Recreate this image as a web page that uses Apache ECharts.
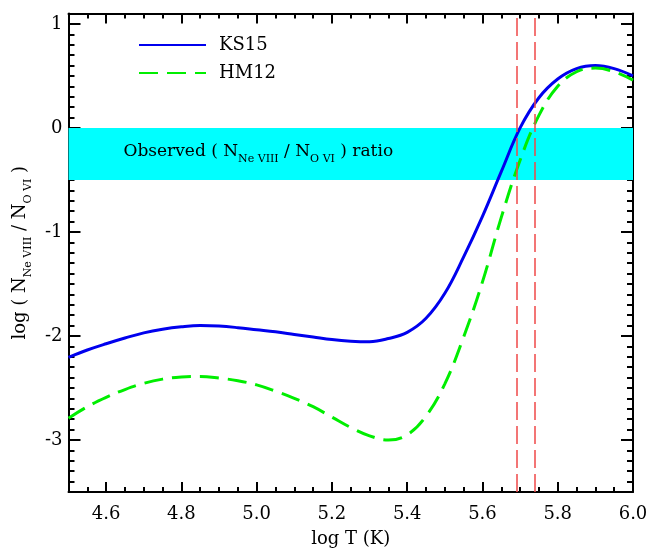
<!DOCTYPE html>
<html>
<head>
<meta charset="utf-8">
<script src="https://cdn.jsdelivr.net/npm/echarts@6/dist/echarts.min.js"></script>
<style>html,body{margin:0;padding:0;background:#fff;}#c{width:663px;height:553px;}</style>
</head>
<body>
<div id="c"></div>
<script>
const logT = [4.50,4.55,4.60,4.65,4.70,4.75,4.80,4.85,4.90,4.95,5.00,5.05,5.10,5.15,5.20,5.25,5.30,5.35,5.40,5.45,5.50,5.55,5.60,5.65,5.70,5.75,5.80,5.85,5.90,5.95,6.00];
const ks15 = [-2.205,-2.135,-2.075,-2.02,-1.97,-1.935,-1.912,-1.90,-1.905,-1.92,-1.94,-1.96,-1.985,-2.01,-2.035,-2.05,-2.055,-2.025,-1.965,-1.83,-1.59,-1.24,-0.85,-0.42,0.00,0.29,0.47,0.57,0.60,0.57,0.50];
const hm12 = [-2.79,-2.68,-2.59,-2.515,-2.455,-2.415,-2.395,-2.39,-2.405,-2.43,-2.47,-2.53,-2.60,-2.68,-2.78,-2.88,-2.96,-3.00,-2.95,-2.77,-2.46,-2.01,-1.48,-0.86,-0.31,0.12,0.40,0.54,0.575,0.54,0.46];
const xMajorTicks = [4.6,4.8,5.0,5.2,5.4,5.6,5.8,6.0];
const yMajorTicks = [-3,-2,-1,0,1];
const observedBand = [0, -0.5];
const tempLines = [5.69, 5.74];

const FONT = 'DejaVu Serif';
const chart = echarts.init(document.getElementById('c'), null, {renderer:'canvas'});

function xAxisDef(position, major){
  return {
    type:'value', min:4.5, max:6.0, position:position,
    interval: major ? undefined : 0.05,
    axisLine:{show: major, onZero:false, lineStyle:{color:'#000', width:2}},
    axisTick:{show:true, inside:true, length: major?10:5, lineStyle:{color:'#000', width:2},
      customValues: major ? xMajorTicks : undefined},
    axisLabel:{show: major && position==='bottom', customValues: xMajorTicks,
      formatter: v => v.toFixed(1), color:'#000', fontFamily:FONT, fontSize:18, margin:13},
    splitLine:{show:false},
    name: (major && position==='bottom') ? 'log T (K)' : '',
    nameLocation:'middle', nameGap:38,
    nameTextStyle:{color:'#000', fontFamily:FONT, fontSize:18}
  };
}
function yAxisDef(position, major){
  return {
    type:'value', min:-3.5, max:1.1, position:position,
    interval: major ? undefined : 0.1,
    axisLine:{show: major, onZero:false, lineStyle:{color:'#000', width:2}},
    axisTick:{show:true, inside:true, length: major?12:6, lineStyle:{color:'#000', width:2},
      customValues: major ? yMajorTicks : undefined},
    axisLabel:{show: major && position==='left', customValues: yMajorTicks,
      formatter: v => String(Math.round(v)), color:'#000', fontFamily:FONT, fontSize:18, margin:6},
    splitLine:{show:false},
    name: (major && position==='left') ? '{n|log ( N}{s|Ne VIII}{n| / N}{s|O VI}{n| )}' : '',
    nameLocation:'middle', nameRotate:90, nameGap:30,
    nameTextStyle:{color:'#000', fontFamily:FONT, fontSize:18,
      rich:{
        n:{fontFamily:FONT, fontSize:18, color:'#000', verticalAlign:'bottom', padding:[0,0,5,0]},
        s:{fontFamily:FONT, fontSize:11, color:'#000', verticalAlign:'bottom'}
      }}
  };
}

const option = {
  animation:false,
  backgroundColor:'#fff',
  grid:{left:68.5, right:30, top:13.5, bottom:58, containLabel:false},
  legend:{
    orient:'vertical', left:133, top:30, itemWidth:67, itemHeight:14, itemGap:8,
    itemStyle:{opacity:0},
    textStyle:{color:'#000', fontFamily:FONT, fontSize:18, lineHeight:20, padding:[0,0,0,8]},
    data:['KS15','HM12']
  },
  xAxis:[xAxisDef('bottom',true), xAxisDef('bottom',false), xAxisDef('top',true), xAxisDef('top',false)],
  yAxis:[yAxisDef('left',true), yAxisDef('left',false), yAxisDef('right',true), yAxisDef('right',false)],
  series:[
    {
      name:'KS15', type:'line', xAxisIndex:0, yAxisIndex:0, smooth:0.4, symbol:'none',
      data: logT.map((x,i)=>[x, ks15[i]]),
      lineStyle:{color:'#0000ee', width:3}, itemStyle:{color:'#0000ee'}, z:3,
      markArea:{
        silent:true,
        itemStyle:{color:'#00ffff', opacity:1},
        label:{show:true, position:'insideLeft', distance:55, color:'#000',
          formatter:'{n|Observed ( N}{s|Ne VIII}{n| / N}{s|O VI}{n| ) ratio}',
          rich:{
            n:{fontFamily:FONT, fontSize:17, color:'#000', verticalAlign:'bottom', padding:[0,0,5,0]},
            s:{fontFamily:FONT, fontSize:11, color:'#000', verticalAlign:'bottom'}
          }},
        data:[[{yAxis:observedBand[0]},{yAxis:observedBand[1]}]]
      }
    },
    {
      name:'HM12', type:'line', xAxisIndex:0, yAxisIndex:0, smooth:0.4, symbol:'none',
      data: logT.map((x,i)=>[x, hm12[i]]),
      lineStyle:{color:'#00ee00', width:3, type:[19,9]}, itemStyle:{color:'#00ee00'}, z:3,
      markLine:{
        silent:true, symbol:'none', label:{show:false},
        lineStyle:{color:'#f04848', width:1.5, type:[18,6]},
        data: tempLines.map(v=>({xAxis:v}))
      }
    }
  ]
};
chart.setOption(option);
</script>
</body>
</html>
